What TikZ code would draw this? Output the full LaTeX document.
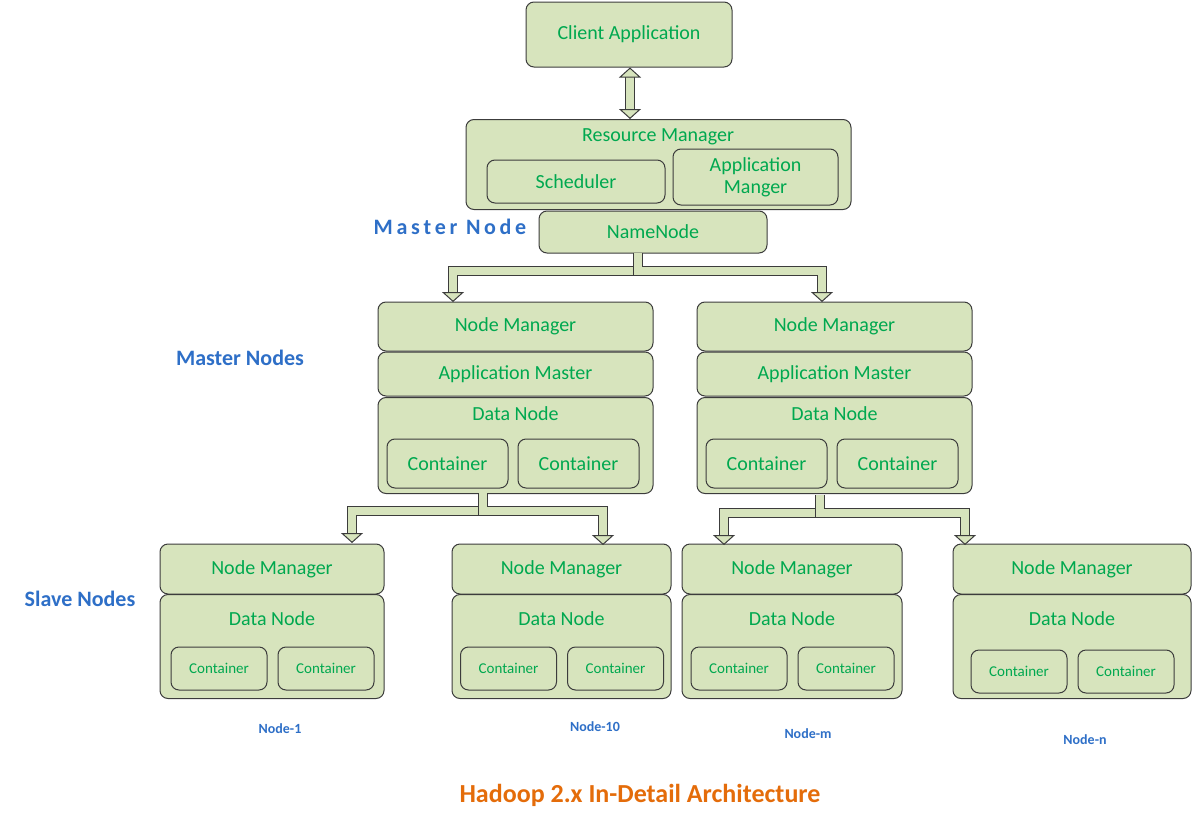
\documentclass[tikz,border=0pt]{standalone}
\usepackage{fontspec}
\setmainfont{Carlito}
\usetikzlibrary{arrows.meta}
\definecolor{boxfill}{HTML}{D7E4BD}
\definecolor{boxline}{HTML}{3C3C3C}
\definecolor{txtgreen}{HTML}{00A84F}
\definecolor{lblblue}{HTML}{2E6FC7}
\definecolor{ttlorange}{HTML}{E46C0A}
\newcommand{\bx}[6][10]{% name, x1, y1, x2, y2, text
  \node[box, font=\fontsize{#1}{#1}\selectfont, minimum width={(#4-#2)*0.5pt}, minimum height={(#5-#3)*0.5pt}] (#2) at ({(#3+#4)/2},{(#5+#6)/2}) {};}
\begin{document}
\begin{tikzpicture}[x=0.5pt,y=-0.5pt,
  box/.style={draw=boxline, fill=boxfill, rounded corners=4pt, line width=0.5pt, text=txtgreen, align=center, inner sep=0pt, font=\fontsize{10}{11}\selectfont},
  sbox/.style={box, font=\fontsize{7.5}{9}\selectfont},
  pipe/.style={draw=boxline, line width=0.5pt, double=boxfill, double distance=4pt, -{Triangle[length=5pt,width=11pt,fill=boxfill]}},
  lbl/.style={text=lblblue, font=\bfseries\fontsize{11}{12}\selectfont},
  nlbl/.style={text=lblblue, font=\bfseries\fontsize{7}{8}\selectfont}]
\useasboundingbox (0,0) rectangle (1200,819);
% master side
\node[box, minimum width=103pt, minimum height=32.5pt] (client) at (629,34.5) {Client Application};
\node[box, minimum width=192.5pt, minimum height=45pt, anchor=north] (rm) at (658.5,119) {};
\node[text=txtgreen, font=\fontsize{10}{11}\selectfont] (rmt) at (658,137) {Resource Manager};
\node[box, minimum width=89pt, minimum height=21.5pt] (sched) at (576,181.5) {Scheduler};
\node[box, minimum width=82.5pt, minimum height=28pt, text width=75pt] (appm) at (755.5,177) {Application\\Manger};
\node[box, minimum width=114pt, minimum height=21pt] (nn) at (653,232) {NameNode};
\node[lbl] (mnode) at (450,227) {M\,a\,s\,t\,e\,r\, N\,o\,d\,e};
\node[lbl] (mnodes) at (240,358) {Master Nodes};
% two master nodes
\foreach \n/\x in {l/515.5, r/834.5} {
  \node[box, minimum width=137.5pt, minimum height=24.5pt] (\n nm) at (\x,326.5) {Node Manager};
  \node[box, minimum width=137.5pt, minimum height=22pt] (\n am) at (\x,374) {Application Master};
  \node[box, minimum width=137.5pt, minimum height=48pt, anchor=north] (\n dn) at (\x,397) {};
  \node[text=txtgreen, font=\fontsize{10}{11}\selectfont] (\n dnt) at (\x,414) {Data Node};
  \node[box, minimum width=60.5pt, minimum height=24.5pt] (\n ca) at (\x-68,463.5) {Container};
  \node[box, minimum width=60.5pt, minimum height=24.5pt] (\n cb) at (\x+63,463.5) {Container};
}
% slave nodes
\foreach \n/\x/\w/\cy/\lx/\ly/\t in {a/272/112/668.5/280/729/Node-1, b/561.5/109.5/668.5/595/727/Node-10, c/792/110/668.5/808/734/Node-m, d/1072/119/671.5/1085/740/Node-n} {
  \node[box, minimum width=\w pt, minimum height=25pt] (\n nm) at (\x,569) {Node Manager};
  \node[box, minimum width=\w pt, minimum height=52pt, anchor=north] (\n dn) at (\x,594) {};
  \node[text=txtgreen, font=\fontsize{10}{11}\selectfont] (\n dnt) at (\x,619) {Data Node};
  \node[sbox, minimum width=48pt, minimum height=21.5pt] (\n ca) at (\x-53,\cy) {Container};
  \node[sbox, minimum width=48pt, minimum height=21.5pt] (\n cb) at (\x+54,\cy) {Container};
  \node[nlbl] (\n lbl) at (\lx,\ly) {\t};
}
\node[lbl] (snodes) at (80,599) {Slave Nodes};
\node[text=ttlorange, font=\bfseries\fontsize{13}{14}\selectfont] (title) at (640,795) {Hadoop 2.x In-Detail Architecture};
% connectors
\draw[pipe, {Triangle[length=5pt,width=11pt,fill=boxfill]}-{Triangle[length=5pt,width=11pt,fill=boxfill]}] (client.south -| 630,0) -- (rm.north -| 630,0);
\coordinate (nnstem) at (638,253);
\draw[pipe] (nnstem) -- (638,271) -| (453,302);
\draw[pipe] (nnstem) -- (638,271) -| (822,302);
\coordinate (lstem) at (483,493);
\draw[pipe] (lstem) -- (483,511) -| (352,543);
\draw[pipe] (lstem) -- (483,511) -| (603,545);
\coordinate (rstem) at (820,495);
\draw[pipe] (rstem) -- (820,513) -| (724,545);
\draw[pipe] (rstem) -- (820,513) -| (965,545);
\end{tikzpicture}
\end{document}
